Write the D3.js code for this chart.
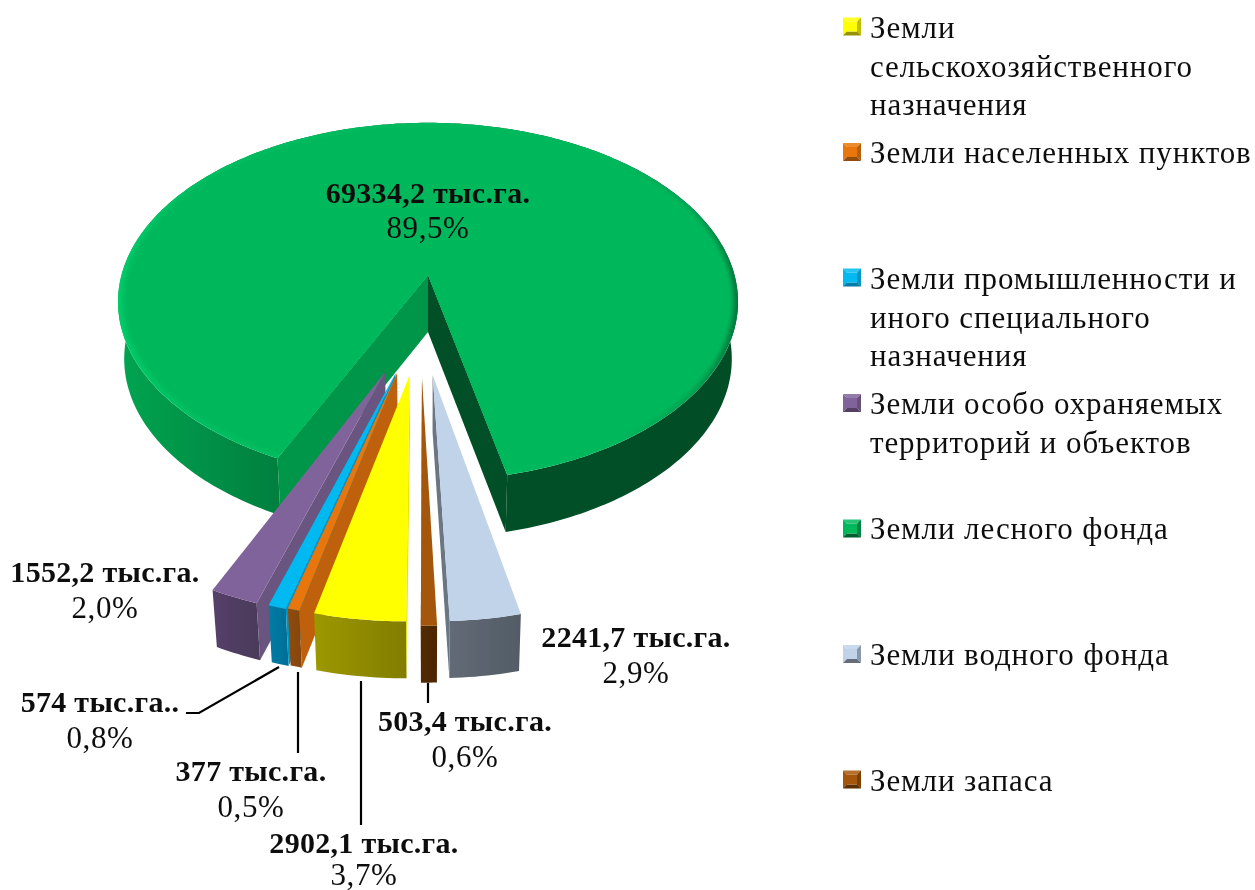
<!DOCTYPE html>
<html><head><meta charset="utf-8">
<script src="https://cdn.jsdelivr.net/npm/d3@7"></script>
<style>
html,body{margin:0;padding:0;background:#fff;overflow:hidden}
text{font-family:"Liberation Serif","Times New Roman",serif;fill:#111}
</style></head><body>
<svg id="c" width="1255" height="890"></svg>
<script>
// ---- data ----
const categories = ["Земли сельскохозяйственного назначения","Земли населенных пунктов","Земли промышленности и иного специального назначения","Земли особо охраняемых территорий и объектов","Земли лесного фонда","Земли водного фонда","Земли запаса"];
const areas = [2902.1, 377, 574, 1552.2, 69334.2, 2241.7, 503.4];
const areaLabels = ["2902,1 тыс.га.","377 тыс.га.","574 тыс.га..","1552,2 тыс.га.","69334,2 тыс.га.","2241,7 тыс.га.","503,4 тыс.га."];
const shareLabels = ["3,7%","0,5%","0,8%","2,0%","89,5%","2,9%","0,6%"];
const legendLines = [["Земли","сельскохозяйственного","назначения"],["Земли населенных пунктов"],["Земли промышленности и","иного специального","назначения"],["Земли особо охраняемых","территорий и объектов"],["Земли лесного фонда"],["Земли водного фонда"],["Земли запаса"]];

// ---- styling / layout ----
const topColors  = ["#FFFF00","#E8760A","#00B9F0","#80649A","#00B85C","#C0D3E9","#A5560A"];
const innerColors= ["#E6E600","#BF6008","#0095C4","#6A5480","#009648","#6A7683","#7A3F06"];
const sideLeft   = ["#9C9800","#8F4C0E","#007CA4","#55406A","#00A551","#626A76","#522A02"];
const sideRight  = ["#827D00","#86460C","#00709A","#4B3A5A","#004D27","#535C66","#4D2700"];
const explodeX = [-.055,-.093,-.098,-.129,0,.014,-.018];
const explodeY = [-.526,-.517,-.519,-.512,0,-.526,-.541];
const drawOrder = [4,5,6,3,2,1,0];
const labelPos = [[364,853,885],[251,781,817],[100,712,748],[105,582,618],[428,203,238],[636,647,683],[465,731,767]];
const leaders = [[[361,681],[361,825]],[[298,672],[298,753]],[[186,713],[199,713],[279,667]],[[428,683],[428,703]]];
const legendX = 870, legendMarkX = 844, legendTop = 26, legendStep = 125.5;
const legendBase = [38,163,289,414,539,665,791], lineGap = 38.7;

const cx=428, cy=275, Rx=306.5, Ry=175, persp=.15, depth=57, shrink=.98;
const svg = d3.select("#c");
const defs = svg.append("defs");
const blur=(id,s)=>defs.append("filter").attr("id",id).attr("x","-10%").attr("y","-20%").attr("width","120%").attr("height","140%").append("feGaussianBlur").attr("stdDeviation",s);
blur("soft",.6); blur("rimb",2); blur("txt",.35); blur("mk",.5);

const pie = d3.pie().sort(null).startAngle(Math.PI).endAngle(3*Math.PI);
const arcs = pie(areas);
const line = d3.line();

function proj(X,Y){ const w=1+persp*Y; return [cx+Rx*X/w, cy-Ry*Y/w]; }
function low(p){ return [cx+(p[0]-cx)*shrink, p[1]+depth]; }
function rim(i,r,a){ return proj(explodeX[i]+r*Math.sin(a), explodeY[i]+r*Math.cos(a)); }
function rimPts(i,r){ const a=arcs[i], n=Math.max(4,Math.ceil((a.endAngle-a.startAngle)*60));
  return d3.range(n+1).map(k=>rim(i,r,a.startAngle+(a.endAngle-a.startAngle)*k/n)); }
function grad(id,x0,x1,stops){ const g=defs.append("linearGradient").attr("id",id).attr("gradientUnits","userSpaceOnUse").attr("x1",x0).attr("x2",x1).attr("y1",0).attr("y2",0);
  stops.forEach(s=>g.append("stop").attr("offset",s[0]).attr("stop-color",s[1])); return `url(#${id})`; }

const gPie = svg.append("g").attr("filter","url(#soft)");
drawOrder.forEach(i=>{
  const a=arcs[i], g=gPie.append("g");
  const outer=rimPts(i,1), apex=rim(i,0,0), xs=outer.map(p=>p[0]);
  const isForest = i===4;
  const sideFill = isForest
    ? grad("side"+i,117,738,[[0,"#00A551"],[.26,"#007F3E"],[.62,"#005028"],[1,"#004D27"]])
    : grad("side"+i,d3.min(xs),d3.max(xs),[[0,sideLeft[i]],[1,sideRight[i]]]);
  g.append("path").attr("d",line(outer.concat(outer.map(low).reverse()))+"Z").attr("fill",sideFill);
  const wall=(p,c)=>g.append("path").attr("d",line([apex,p,low(p),low(apex)])+"Z").attr("fill",c);
  if(isForest){ wall(outer[0],innerColors[i]); wall(outer[outer.length-1],"#004F28"); }
  else if(i<4) wall(outer[0],innerColors[i]);
  else wall(outer[outer.length-1],innerColors[i]);
  // top face; the forest slice gets a soft bevel along its rim
  if(isForest){
    const band = grad("band"+i,117,738,[[0,"#00CC6A"],[.12,"#00C062"],[.8,"#00B85C"],[.93,"#00A050"],[1,"#007A3C"]]);
    g.append("path").attr("d",line([apex,...outer])+"Z").attr("fill",band);
    const clip=defs.append("clipPath").attr("id","topclip"); clip.append("path").attr("d",line([apex,...outer])+"Z");
    g.append("g").attr("clip-path","url(#topclip)").append("path").attr("d",line([apex,...rimPts(i,.985)])+"Z").attr("fill",topColors[i]).attr("filter","url(#rimb)");
    g.append("path").attr("d",line([apex,...rimPts(i,.96)])+"Z").attr("fill",topColors[i]);
  } else {
    g.append("path").attr("d",line([apex,...outer])+"Z").attr("fill",topColors[i]);
  }
});

// leaders
svg.append("g").selectAll("path").data(leaders).join("path").attr("d",d=>line(d)).attr("fill","none").attr("stroke","#000").attr("stroke-width",2.2);

// data labels
const gLab = svg.append("g").attr("filter","url(#txt)");
areas.forEach((v,i)=>{
  const p=labelPos[i];
  gLab.append("text").attr("x",p[0]).attr("y",p[1]).attr("text-anchor","middle").attr("font-size",30).attr("letter-spacing",.3).attr("font-weight",700).text(areaLabels[i]);
  gLab.append("text").attr("x",p[0]).attr("y",p[2]).attr("text-anchor","middle").attr("font-size",31).attr("letter-spacing",.6).text(shareLabels[i]);
});

// legend
const gLeg = svg.append("g");
categories.forEach((c,i)=>{
  const y=legendTop+legendStep*i-8.5, x=legendMarkX-1, s=18, t=4;
  const m=gLeg.append("g").attr("filter","url(#mk)");
  const lighter=d3.interpolateRgb(topColors[i],"#fff")(.15), mid=d3.interpolateRgb(topColors[i],sideRight[i])(.5);
  const tri=(pts,f)=>m.append("path").attr("d",line(pts)+"Z").attr("fill",f);
  tri([[x,y],[x+s,y],[x+s-t,y+t],[x+t,y+t]],lighter);
  tri([[x,y],[x+t,y+t],[x+t,y+s-t],[x,y+s]],topColors[i]);
  tri([[x+s,y],[x+s-t,y+t],[x+s-t,y+s-t],[x+s,y+s]],mid);
  tri([[x,y+s],[x+t,y+s-t],[x+s-t,y+s-t],[x+s,y+s]],d3.interpolateRgb(topColors[i],sideRight[i])(.85));
  m.append("rect").attr("x",x+t).attr("y",y+t).attr("width",s-2*t).attr("height",s-2*t).attr("fill",topColors[i]);
  legendLines[i].forEach((l,k)=>gLeg.append("text").attr("filter","url(#txt)").attr("x",legendX).attr("y",legendBase[i]+k*lineGap).attr("font-size",31).attr("letter-spacing",.9).text(l));
});
</script></body></html>
